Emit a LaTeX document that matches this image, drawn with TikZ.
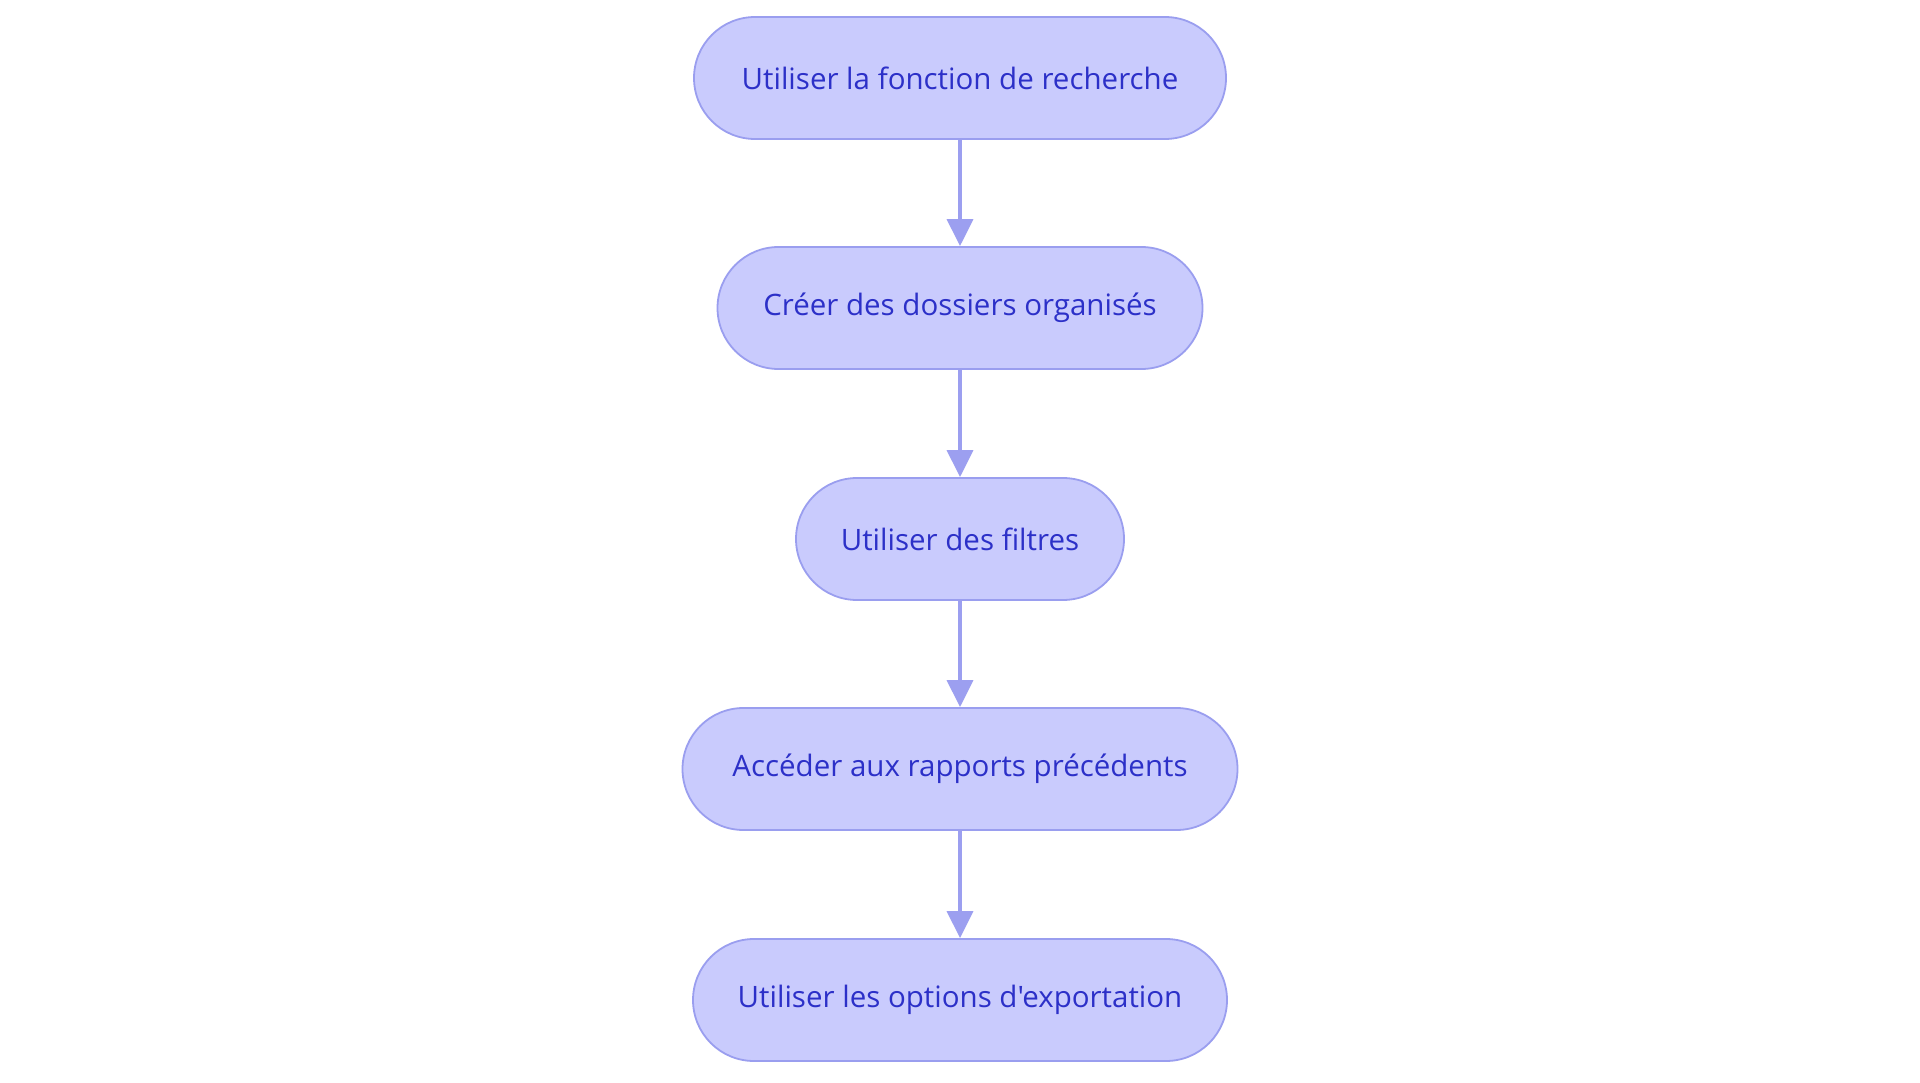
\documentclass[tikz,border=0pt]{standalone}
\usepackage{fontspec}
\newfontfamily\plainfont{Open Sans}
\usetikzlibrary{arrows.meta}
\definecolor{boxfill}{HTML}{C9CBFD}
\definecolor{boxline}{HTML}{9A9EEF}
\definecolor{boxtext}{HTML}{2C30C8}
\definecolor{arrowc}{HTML}{9C9FF0}
\begin{document}
\begin{tikzpicture}[x=1pt,y=1pt,
  pill/.style={draw=boxline, line width=1.8pt, fill=boxfill, text=boxtext,
    rounded corners=61pt, minimum height=122pt, inner sep=0pt,
    font=\plainfont\fontsize{29.5}{34}\selectfont},
  flow/.style={draw=arrowc, line width=3.5pt,
    -{Triangle[length=27pt,width=26pt]}, shorten >=0pt}]
\useasboundingbox[fill=white] (0,0) rectangle (1920,-1083);
\node[pill, minimum width=532pt] (n1) at (960,-78) {Utiliser la fonction de recherche};
\node[pill, minimum width=485pt] (n2) at (960,-308) {Créer des dossiers organisés};
\node[pill, minimum width=328pt] (n3) at (960,-539) {Utiliser des filtres};
\node[pill, minimum width=555pt] (n4) at (960,-769) {Accéder aux rapports précédents};
\node[pill, minimum width=534pt] (n5) at (960,-1000) {Utiliser les options d'exportation};
\draw[flow] (n1) -- (n2);
\draw[flow] (n2) -- (n3);
\draw[flow] (n3) -- (n4);
\draw[flow] (n4) -- (n5);
\end{tikzpicture}
\end{document}
